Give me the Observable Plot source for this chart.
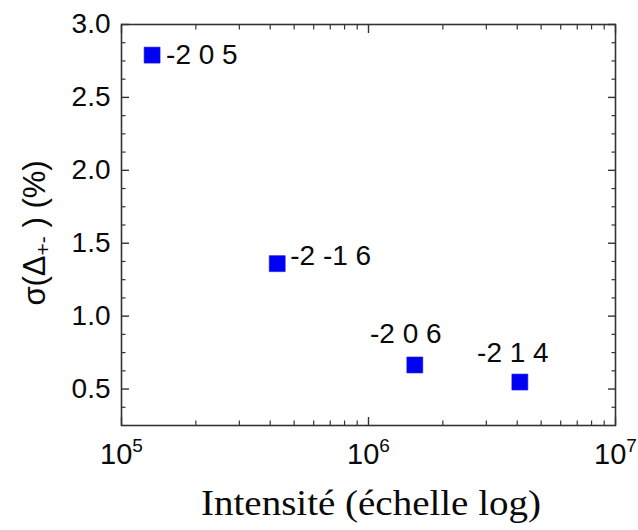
<!DOCTYPE html>
<html><head><meta charset="utf-8">
<script src="https://cdn.jsdelivr.net/npm/d3@7"></script>
<script src="https://cdn.jsdelivr.net/npm/@observablehq/plot@0.6"></script>
<style>
body{margin:0;background:#fff}
#chart svg{display:block}
</style>
</head><body><div id="chart"></div>
<script>
// ---- data ----
const reflections = ["-2 0 5", "-2 -1 6", "-2 0 6", "-2 1 4"];
const intensity = [1.33e5, 4.27e5, 1.54e6, 4.1e6];
const sigma = [2.79, 1.36, 0.665, 0.548];
const xMajor = [1e5, 1e6, 1e7];
const xMinor = [2e5, 3e5, 4e5, 5e5, 6e5, 7e5, 8e5, 9e5, 2e6, 3e6, 4e6, 5e6, 6e6, 7e6, 8e6, 9e6];
const yMajor = [0.5, 1.0, 1.5, 2.0, 2.5, 3.0];
const yMinor = [0.375, 0.625, 0.75, 0.875, 1.125, 1.25, 1.375, 1.625, 1.75, 1.875, 2.125, 2.25, 2.375, 2.625, 2.75, 2.875];
const xTitle = "Intensité (échelle log)";

const rows = reflections.map((r, i) => ({r, x: intensity[i], y: sigma[i]}));
const sel = r => rows.filter(d => d.r === r);

const axisColor = "#333";
const font = "'Liberation Sans', Arial, sans-serif";

const chart = Plot.plot({
  width: 638, height: 530,
  marginLeft: 121, marginRight: 23, marginTop: 24, marginBottom: 105,
  x: {type: "log", domain: [1e5, 1e7]},
  y: {domain: [0.25, 3.0]},
  style: {fontFamily: font, fontSize: "28px", background: "white", color: "#0a0a0a"},
  marks: [
    // inward ticks, all four sides
    Plot.axisX(xMajor, {anchor: "bottom", tickSize: -8, tickFormat: () => "", label: null, stroke: axisColor, strokeWidth: 1.4}),
    Plot.axisX(xMinor, {anchor: "bottom", tickSize: -4.5, tickFormat: () => "", label: null, stroke: axisColor, strokeWidth: 1.2}),
    Plot.axisX(xMajor, {anchor: "top", tickSize: -8, tickFormat: () => "", label: null, stroke: axisColor, strokeWidth: 1.4}),
    Plot.axisX(xMinor, {anchor: "top", tickSize: -4.5, tickFormat: () => "", label: null, stroke: axisColor, strokeWidth: 1.2}),
    Plot.axisY(yMajor, {anchor: "left", tickSize: -8, tickFormat: () => "", label: null, stroke: axisColor, strokeWidth: 1.4}),
    Plot.axisY(yMinor, {anchor: "left", tickSize: -4.5, tickFormat: () => "", label: null, stroke: axisColor, strokeWidth: 1.2}),
    Plot.axisY(yMajor, {anchor: "right", tickSize: -8, tickFormat: () => "", label: null, stroke: axisColor, strokeWidth: 1.4}),
    Plot.axisY(yMinor, {anchor: "right", tickSize: -4.5, tickFormat: () => "", label: null, stroke: axisColor, strokeWidth: 1.2}),
    // tick labels
    Plot.axisX(xMajor, {anchor: "bottom", tickSize: 0, tickPadding: 18, tickFormat: d => "10|" + Math.round(Math.log10(d)), label: null, fontSize: 29}),
    Plot.axisY(yMajor, {anchor: "left", tickSize: 0, tickPadding: 11, tickFormat: d3.format(".1f"), label: null, fontSize: 28}),
    Plot.frame({stroke: axisColor, strokeWidth: 1.6}),
    // points
    Plot.dot(rows, {x: "x", y: "y", symbol: "square", r: 9, fill: "#0000f5", stroke: "#1a1ad0", strokeWidth: 0.6}),
    // point labels
    Plot.text(sel("-2 0 5"), {x: "x", y: "y", text: "r", textAnchor: "start", dx: 14, dy: 0, fontSize: 28, fill: "#0a0a0a"}),
    Plot.text(sel("-2 -1 6"), {x: "x", y: "y", text: "r", textAnchor: "start", dx: 13, dy: -8, fontSize: 28, fill: "#0a0a0a"}),
    Plot.text(sel("-2 0 6"), {x: "x", y: "y", text: "r", textAnchor: "middle", dx: -9, dy: -31, fontSize: 28, fill: "#0a0a0a"}),
    Plot.text(sel("-2 1 4"), {x: "x", y: "y", text: "r", textAnchor: "middle", dx: -7, dy: -29, fontSize: 28, fill: "#0a0a0a"})
  ]
});

document.getElementById("chart").appendChild(chart);
const svg = d3.select(chart);

// superscript exponents on x tick labels
svg.selectAll('g[aria-label="x-axis tick label"] text').each(function() {
  const t = d3.select(this);
  const [base, exp] = t.text().split("|");
  t.text(null);
  t.append("tspan").text(base);
  t.append("tspan").attr("font-size", 19).attr("dy", "-0.65em").text(exp);
});

// y-axis title
const yt = svg.append("text")
  .attr("transform", "translate(37,233) rotate(-90)")
  .attr("text-anchor", "middle")
  .attr("dominant-baseline", "middle")
  .attr("font-family", font)
  .attr("font-size", 31)
  .attr("fill", "#0a0a0a");
yt.append("tspan").text("σ(Δ");
yt.append("tspan").attr("font-size", 21).attr("dy", "0.35em").text("+-");
yt.append("tspan").attr("dy", "-0.23em").text(" ) (%)");

// x-axis title
svg.append("text")
  .attr("x", 371).attr("y", 515)
  .attr("text-anchor", "middle")
  .attr("font-family", "'Liberation Serif', 'Times New Roman', serif")
  .attr("font-size", 35)
  .attr("textLength", 340)
  .attr("lengthAdjust", "spacingAndGlyphs")
  .attr("fill", "#0a0a0a")
  .text(xTitle);
</script>
</body></html>
